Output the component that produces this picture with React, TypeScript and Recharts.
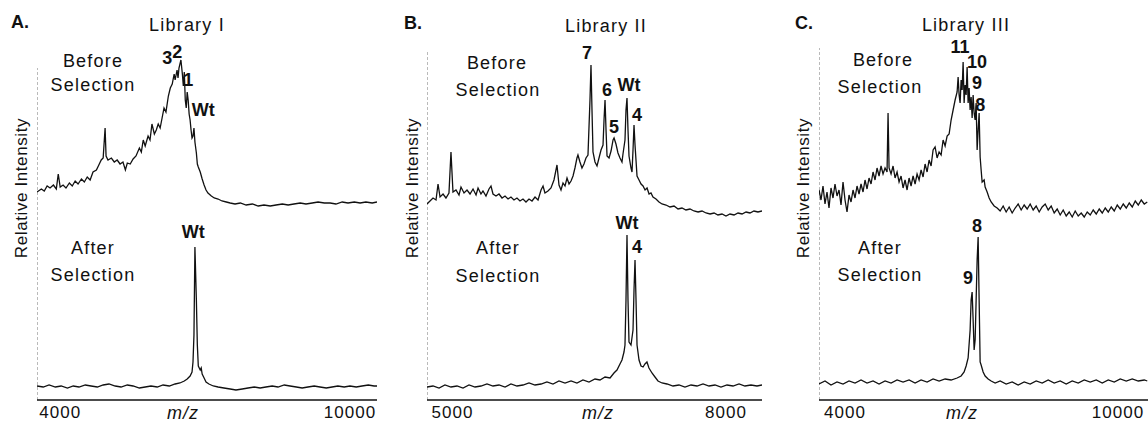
import React from "react";
import { LineChart, Line, XAxis, YAxis, ReferenceLine, ReferenceDot } from "recharts";

type Pt = [number, number];
type PeakLabel = { text: string; mz: number; y: number };

// Library I — m/z vs relative intensity
const libIBefore: Pt[] = [
  [3520, 14], [3610, 15.5], [3670, 14.5], [3730, 17], [3790, 16], [3860, 17.5], [3920, 15.5], [3960, 23],
  [4000, 16.5], [4060, 17.5], [4120, 16], [4190, 18.5], [4250, 17], [4310, 19.5], [4370, 18], [4440, 20.5],
  [4500, 19], [4560, 21.5], [4620, 20], [4680, 24], [4750, 25], [4810, 28], [4850, 30], [4890, 31],
  [4930, 46], [4950, 32], [4990, 30], [5060, 31], [5120, 29], [5180, 30], [5240, 28], [5300, 29],
  [5350, 25], [5390, 28.5], [5450, 28], [5510, 30.5], [5570, 32], [5640, 36], [5680, 34], [5720, 40],
  [5760, 37], [5820, 42], [5860, 40], [5900, 48], [5950, 43], [5990, 45], [6030, 48], [6070, 46],
  [6110, 51], [6150, 56], [6190, 54], [6240, 62], [6280, 66], [6320, 68], [6360, 73], [6380, 70],
  [6420, 75], [6440, 71], [6460, 76], [6500, 80], [6530, 73], [6550, 67], [6570, 74], [6590, 60],
  [6610, 56], [6630, 64], [6650, 60], [6670, 53], [6690, 50], [6710, 45], [6730, 41], [6750, 42],
  [6770, 46], [6790, 39], [6820, 33.5], [6840, 28], [6860, 26.5], [6900, 24], [6940, 20.5], [6980, 17.5],
  [7020, 15], [7060, 13.5], [7130, 12], [7190, 11], [7270, 10.5], [7350, 9.5], [7440, 9], [7520, 8.5],
  [7620, 8], [7730, 8.5], [7850, 7.5], [7980, 8], [8100, 7], [8220, 7.5], [8350, 7], [8470, 7.5],
  [8600, 8], [8720, 7.5], [8840, 8], [8970, 8.5], [9090, 8], [9220, 8.5], [9340, 9], [9470, 8.5],
  [9590, 8.5], [9710, 8], [9840, 9], [9960, 8.5], [10090, 9], [10210, 8.5], [10330, 9], [10460, 8.5],
  [10560, 9],
];
const libIAfter: Pt[] = [
  [3520, 7], [3650, 6.5], [3770, 7.5], [3900, 6.5], [4020, 7], [4150, 6], [4270, 7], [4390, 6.5],
  [4520, 7.5], [4640, 7], [4770, 6.5], [4890, 7.5], [5010, 8], [5140, 7], [5260, 6.5], [5390, 7.5],
  [5510, 7], [5640, 6], [5760, 6.5], [5880, 7], [6010, 6.5], [6130, 7.5], [6260, 7], [6380, 8],
  [6480, 8.5], [6570, 9.5], [6630, 10.5], [6690, 12], [6730, 14], [6750, 19], [6770, 32.5], [6790, 76.5],
  [6820, 50], [6840, 27.5], [6860, 17], [6900, 15], [6920, 16], [6940, 13], [6980, 11], [7020, 9],
  [7080, 8], [7170, 7], [7270, 6.5], [7390, 6], [7520, 5.5], [7640, 5], [7770, 5.5], [7890, 6],
  [8020, 6.5], [8140, 6], [8260, 6.5], [8390, 7], [8510, 6.5], [8640, 7.5], [8760, 7], [8890, 6.5],
  [9010, 6], [9130, 6.5], [9260, 7], [9380, 6.5], [9510, 6], [9630, 6.5], [9750, 7], [9880, 6.5],
  [10000, 7], [10130, 6.5], [10250, 7], [10380, 7.5], [10500, 7], [10560, 7],
];

// Library II
const libIIBefore: Pt[] = [
  [4720, 8], [4753, 9.5], [4786, 11], [4819, 10], [4841, 18], [4863, 11.5], [4896, 13], [4928, 11],
  [4961, 13.5], [4983, 34], [5005, 14], [5038, 15], [5071, 12.5], [5093, 16.5], [5126, 13.5], [5159, 15],
  [5192, 13], [5225, 15.5], [5258, 12.5], [5280, 16], [5312, 13], [5334, 14.5], [5367, 12], [5400, 15.5],
  [5422, 17], [5444, 13], [5477, 12], [5510, 13], [5543, 11], [5576, 12], [5609, 10.5], [5641, 11.5],
  [5674, 10], [5707, 11], [5740, 9.5], [5773, 10.5], [5806, 9], [5839, 10.5], [5872, 9.5], [5905, 11.5],
  [5938, 10], [5971, 15], [5993, 17], [6014, 13.5], [6047, 14.5], [6080, 16], [6113, 20], [6146, 27.5],
  [6168, 17.5], [6190, 15], [6212, 18.5], [6234, 17], [6256, 21], [6278, 18], [6300, 19.5], [6322, 22],
  [6343, 26], [6365, 31], [6376, 32.5], [6398, 29], [6420, 26], [6442, 28], [6464, 31], [6486, 32.5],
  [6508, 60], [6519, 77.5], [6530, 55], [6541, 34], [6563, 29], [6585, 27], [6607, 31], [6629, 35],
  [6651, 37.5], [6662, 50], [6673, 60], [6684, 45], [6695, 32], [6717, 31], [6739, 34.5], [6761, 40],
  [6772, 41], [6793, 38], [6815, 33.5], [6837, 31], [6859, 29], [6870, 33], [6892, 40], [6903, 55],
  [6914, 61], [6925, 45], [6936, 32], [6958, 26], [6969, 24], [6980, 35], [6991, 47.5], [7002, 37.5],
  [7024, 22], [7046, 20], [7068, 18], [7090, 17], [7112, 15], [7134, 16], [7156, 13], [7177, 13.5],
  [7199, 11.5], [7232, 10.5], [7265, 9], [7298, 8], [7342, 7.5], [7386, 6.5], [7430, 7], [7474, 5.5],
  [7517, 6], [7561, 5], [7605, 5.5], [7649, 4.5], [7693, 4], [7737, 4.5], [7781, 3.5], [7825, 3],
  [7869, 3.5], [7912, 2.5], [7956, 3], [8000, 2], [8044, 3], [8088, 2.5], [8132, 3.5], [8176, 3],
  [8220, 4], [8263, 3.5], [8307, 4.5], [8351, 4], [8395, 4.5],
];
const libIIAfter: Pt[] = [
  [4720, 6.5], [4786, 7], [4852, 6], [4917, 7.5], [4983, 6.5], [5049, 7], [5115, 6], [5181, 7.5],
  [5247, 6.5], [5312, 7], [5378, 8], [5444, 7], [5510, 7.5], [5576, 6.5], [5641, 8], [5707, 7],
  [5773, 7.5], [5839, 8.5], [5905, 7.5], [5971, 8], [6036, 9], [6102, 8], [6168, 9.5], [6234, 8.5],
  [6300, 9.5], [6365, 8.5], [6431, 10], [6497, 9], [6563, 10.5], [6618, 10], [6673, 11.5], [6728, 11],
  [6771, 13.5], [6804, 15], [6837, 18], [6859, 20], [6881, 24], [6892, 27.5], [6903, 50], [6914, 82.5],
  [6925, 50], [6936, 29], [6958, 27.5], [6980, 35], [6991, 55], [7002, 70], [7013, 50], [7024, 27.5],
  [7046, 20], [7068, 17], [7090, 16.5], [7111, 18], [7133, 19], [7155, 16], [7188, 13.5], [7221, 11.5],
  [7254, 9.5], [7298, 8.5], [7353, 8], [7419, 7], [7484, 7.5], [7550, 6.5], [7616, 7.5], [7682, 7],
  [7748, 8], [7814, 7], [7879, 7.5], [7945, 6.5], [8011, 7.5], [8077, 7], [8143, 8], [8208, 7],
  [8274, 7.5], [8340, 7], [8395, 7.5],
];

// Library III
const libIIIBefore: Pt[] = [
  [3428, 15], [3472, 10], [3516, 17], [3560, 8], [3604, 14], [3648, 6], [3692, 16], [3736, 11],
  [3780, 18], [3824, 12], [3868, 15], [3912, 7.5], [3956, 19], [4000, 10], [4044, 4], [4088, 12.5],
  [4132, 9], [4176, 15], [4220, 11], [4264, 17], [4308, 13], [4352, 18], [4396, 14], [4440, 20],
  [4484, 15.5], [4528, 21], [4572, 18], [4616, 24], [4660, 20], [4704, 26], [4748, 22], [4792, 27],
  [4836, 23], [4880, 26], [4924, 24], [4946, 53.5], [4968, 26], [5012, 23], [5056, 27], [5100, 21],
  [5144, 24], [5188, 19], [5232, 22], [5276, 16], [5320, 20], [5364, 15], [5408, 21], [5452, 17],
  [5496, 22], [5540, 18], [5584, 23], [5628, 20], [5672, 25], [5716, 21.5], [5760, 28], [5804, 24],
  [5848, 30], [5892, 27], [5936, 35], [5980, 36.5], [6024, 31], [6068, 34], [6112, 32.5], [6156, 40],
  [6200, 37], [6244, 42], [6288, 43], [6332, 50], [6376, 55], [6420, 60], [6464, 64], [6486, 71.5],
  [6508, 62.5], [6530, 58.5], [6552, 70], [6574, 65], [6596, 79], [6618, 58.5], [6640, 67.5], [6662, 62.5],
  [6684, 76.5], [6706, 58.5], [6728, 66], [6750, 55], [6772, 61.5], [6794, 51], [6816, 62.5], [6838, 53.5],
  [6860, 50], [6882, 58.5], [6904, 35], [6926, 45], [6948, 53.5], [6970, 31.5], [6992, 25], [7014, 19],
  [7058, 20], [7080, 16.5], [7124, 14], [7168, 11], [7212, 9], [7278, 7], [7344, 6], [7410, 4.5],
  [7476, 7], [7542, 4], [7608, 6.5], [7674, 3.5], [7740, 6], [7806, 8], [7872, 5], [7938, 7.5],
  [8004, 5.5], [8070, 8], [8136, 5], [8202, 7], [8268, 4], [8334, 6.5], [8400, 8], [8466, 5],
  [8532, 7], [8598, 3.5], [8664, 5.5], [8730, 2.5], [8796, 5], [8862, 2], [8928, 4], [8994, 1.5],
  [9060, 4.5], [9126, 2], [9192, 3.5], [9258, 1.5], [9324, 4], [9390, 2.5], [9456, 5], [9522, 3],
  [9588, 5.5], [9654, 3.5], [9720, 6], [9786, 4], [9852, 6.5], [9918, 4.5], [9984, 7.5], [10050, 5.5],
  [10116, 8], [10182, 6], [10248, 8.5], [10314, 6.5], [10380, 9.5], [10446, 7.5], [10512, 10], [10578, 8],
  [10644, 9],
];
const libIIIAfter: Pt[] = [
  [3428, 8], [3560, 9.5], [3692, 7.5], [3824, 9], [3956, 8], [4088, 9.5], [4220, 8.5], [4352, 10],
  [4484, 8.5], [4616, 9.5], [4748, 8], [4880, 9.5], [5012, 8.5], [5144, 10], [5276, 9], [5408, 10],
  [5540, 8.5], [5672, 10], [5804, 9], [5936, 10.5], [6068, 9.5], [6200, 10.5], [6332, 10], [6464, 11],
  [6552, 12], [6618, 14], [6662, 17], [6706, 21], [6750, 35], [6772, 50], [6794, 54], [6816, 40],
  [6838, 25], [6860, 30], [6882, 50], [6904, 70], [6926, 81.5], [6948, 50], [6970, 19], [6992, 17.5],
  [7036, 14], [7080, 12], [7146, 10.5], [7212, 9.5], [7300, 8.5], [7410, 9.5], [7542, 8], [7674, 9],
  [7806, 7.5], [7938, 9], [8070, 8], [8202, 9.5], [8334, 8.5], [8466, 10], [8598, 8.5], [8730, 9.5],
  [8862, 8], [8994, 9.5], [9126, 8.5], [9258, 10], [9390, 9], [9522, 10], [9654, 8.5], [9786, 10],
  [9918, 9], [10050, 10.5], [10182, 9.5], [10314, 10.5], [10446, 9.5], [10578, 10], [10644, 9.5],
];

// peak annotations (m/z, stacked intensity)
const libILabels: PeakLabel[] = [
  { text: "3", mz: 6215, y: 171 }, { text: "2", mz: 6422, y: 174 }, { text: "1", mz: 6650, y: 160 },
  { text: "Wt", mz: 6960, y: 145 }, { text: "Wt", mz: 6753, y: 84 },
];
const libIILabels: PeakLabel[] = [
  { text: "7", mz: 6475, y: 173.5 }, { text: "6", mz: 6695, y: 155 }, { text: "Wt", mz: 6936, y: 157.5 },
  { text: "5", mz: 6771, y: 136.5 }, { text: "4", mz: 7024, y: 142.5 },
  { text: "Wt", mz: 6914, y: 88.5 }, { text: "4", mz: 7024, y: 76.5 },
];
const libIIILabels: PeakLabel[] = [
  { text: "11", mz: 6530, y: 176.5 }, { text: "10", mz: 6904, y: 169 }, { text: "9", mz: 6904, y: 158.5 },
  { text: "8", mz: 6970, y: 147.5 }, { text: "8", mz: 6904, y: 87 }, { text: "9", mz: 6706, y: 61 },
];

const BEFORE_OFFSET = 90;
const FONT = '"Liberation Sans", Arial, Helvetica, sans-serif';

const toRows = (pts: Pt[], offset: number) => pts.map(([mz, v]) => ({ mz, y: v + offset }));

type PanelProps = {
  left: number;
  width: number;
  domain: [number, number];
  ticks: number[];
  before: Pt[];
  after: Pt[];
  labels: PeakLabel[];
  axisTop: number;
};

function Panel({ left, width, domain, ticks, before, after, labels, axisTop }: PanelProps) {
  return (
    <div style={{ position: "absolute", left, top: 0 }}>
      <LineChart width={width} height={424} margin={{ top: 40, right: 0, left: 0, bottom: 0 }}>
        <XAxis
          dataKey="mz"
          type="number"
          domain={domain}
          ticks={ticks}
          interval={0}
          allowDataOverflow
          height={24}
          tickLine={false}
          tickSize={0}
          tickMargin={6}
          axisLine={{ stroke: "#111", strokeWidth: 1.5 }}
          tick={{ fill: "#111", fontSize: 17, fontFamily: FONT, letterSpacing: 1 }}
        />
        <YAxis type="number" domain={[0, 180]} hide allowDataOverflow />
        <ReferenceLine
          segment={[{ x: domain[0], y: 0 }, { x: domain[0], y: axisTop }]}
          stroke="#777"
          strokeDasharray="3 2"
          ifOverflow="visible"
        />
        <Line data={toRows(before, BEFORE_OFFSET)} dataKey="y" type="linear" stroke="#111" strokeWidth={1.3} dot={false} isAnimationActive={false} />
        <Line data={toRows(after, 0)} dataKey="y" type="linear" stroke="#111" strokeWidth={1.3} dot={false} isAnimationActive={false} />
        {labels.map((l, i) => (
          <ReferenceDot
            key={i}
            x={l.mz}
            y={l.y}
            r={0}
            fill="none"
            stroke="none"
            ifOverflow="visible"
            label={{ value: l.text, position: "center", fill: "#111", fontSize: 18, fontWeight: 700, fontFamily: FONT }}
          />
        ))}
      </LineChart>
    </div>
  );
}

const texts = [
  { t: "A.", x: 20, y: 22, b: true },
  { t: "Library I", x: 187, y: 25 },
  { t: "Before", x: 93, y: 61 },
  { t: "Selection", x: 93, y: 85 },
  { t: "After", x: 93, y: 248 },
  { t: "Selection", x: 93, y: 275 },
  { t: "B.", x: 413, y: 23, b: true },
  { t: "Library II", x: 606, y: 26 },
  { t: "Before", x: 497, y: 63 },
  { t: "Selection", x: 498, y: 90 },
  { t: "After", x: 498, y: 248 },
  { t: "Selection", x: 498, y: 276 },
  { t: "C.", x: 804, y: 23, b: true },
  { t: "Library III", x: 966, y: 25 },
  { t: "Before", x: 883, y: 60 },
  { t: "Selection", x: 880, y: 87 },
  { t: "After", x: 880, y: 248 },
  { t: "Selection", x: 880, y: 275 },
];

const axisTitles = [
  { x: 21, y: 188 },
  { x: 412, y: 188 },
  { x: 803, y: 188 },
];
const mzTitles = [183, 598, 962];

export default function App() {
  return (
    <div style={{ position: "absolute", left: 0, top: 0, width: 1148, height: 424, background: "#fff", overflow: "hidden", fontFamily: FONT, color: "#111" }}>
      <Panel left={37} width={340} domain={[3520, 10560]} ticks={[4000, 10000]} before={libIBefore} after={libIAfter} labels={libILabels} axisTop={166} />
      <Panel left={427} width={335} domain={[4720, 8395]} ticks={[5000, 8000]} before={libIIBefore} after={libIIAfter} labels={libIILabels} axisTop={175} />
      <Panel left={819} width={329} domain={[3428, 10660]} ticks={[4000, 10000]} before={libIIIBefore} after={libIIIAfter} labels={libIIILabels} axisTop={176} />
      {texts.map((s, i) => (
        <div
          key={i}
          style={{
            position: "absolute",
            left: s.x,
            top: s.y,
            transform: "translate(-50%, -50%)",
            fontSize: 18,
            lineHeight: 1,
            fontWeight: s.b ? 700 : 400,
            letterSpacing: s.b ? 0 : 1.2,
            whiteSpace: "nowrap",
          }}
        >
          {s.t}
        </div>
      ))}
      {axisTitles.map((a, i) => (
        <div
          key={i}
          style={{
            position: "absolute",
            left: a.x,
            top: a.y,
            transform: "translate(-50%, -50%) rotate(-90deg)",
            fontSize: 17,
            lineHeight: 1,
            letterSpacing: 0.6,
            whiteSpace: "nowrap",
          }}
        >
          Relative Intensity
        </div>
      ))}
      {mzTitles.map((x, i) => (
        <div
          key={i}
          style={{
            position: "absolute",
            left: x,
            top: 413,
            transform: "translate(-50%, -50%)",
            fontSize: 18,
            lineHeight: 1,
            fontStyle: "italic",
            letterSpacing: 1,
            whiteSpace: "nowrap",
          }}
        >
          m/z
        </div>
      ))}
    </div>
  );
}
